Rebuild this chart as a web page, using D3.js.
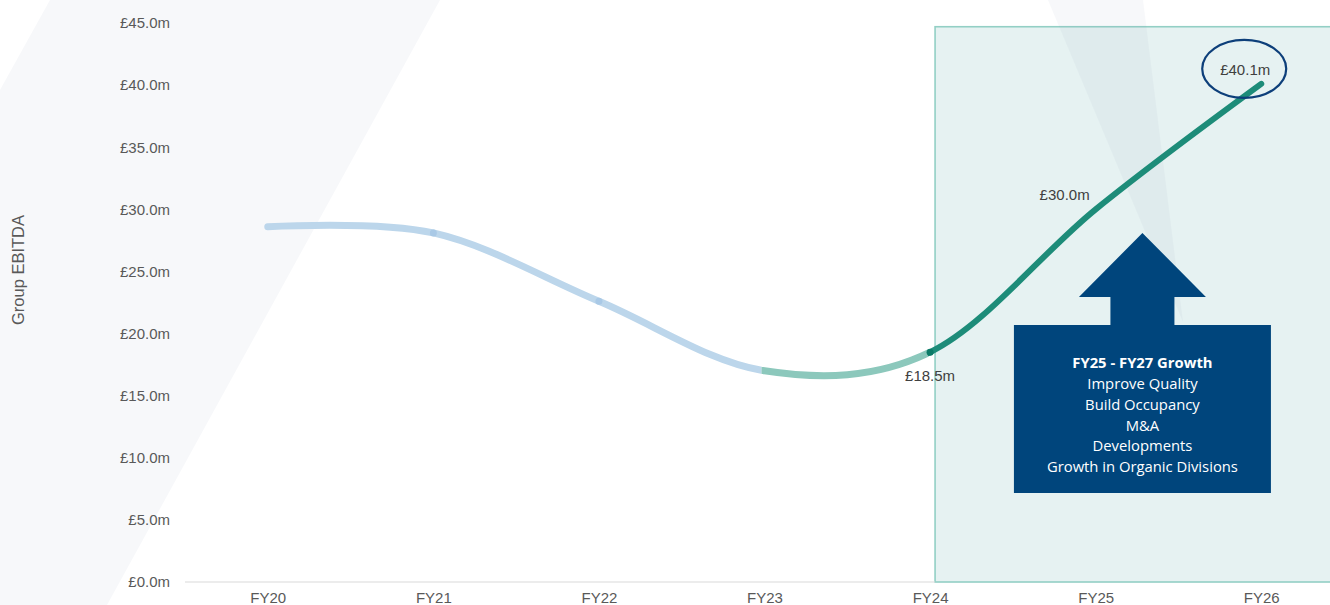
<!DOCTYPE html>
<html>
<head>
<meta charset="utf-8">
<script src="https://cdn.jsdelivr.net/npm/d3@7"></script>
<style>
  html, body { margin: 0; padding: 0; background: #ffffff; overflow: hidden; }
  svg { display: block; }
</style>
</head>
<body>
<svg id="chart" width="1330" height="605"></svg>
<script>
// ---- data ----
const categories = ["FY20", "FY21", "FY22", "FY23", "FY24", "FY25", "FY26"];
const ebitda = [28.6, 28.1, 22.6, 17.0, 18.5, 30.0, 40.1];
const yTicks = [0, 5, 10, 15, 20, 25, 30, 35, 40, 45];
const valueLabels = ["FY24", "FY25", "FY26"];
const markerCats = ["FY21", "FY22"];
const growthTitle = "FY25 - FY27 Growth";
const growthItems = ["Improve Quality", "Build Occupancy", "M&A", "Developments", "Growth in Organic Divisions"];
const yTitle = "Group EBITDA";

// ---- setup ----
const W = 1330, H = 605;
const svg = d3.select("#chart");
const plotLeft = 185, plotRight = 1344, plotTop = 23, plotBottom = 582;

const x = d3.scalePoint().domain(categories).range([plotLeft, plotRight]).padding(0.5);
const y = d3.scaleLinear().domain([0, 45]).range([plotBottom, plotTop]);
const fmt = v => "£" + d3.format(".1f")(v) + "m";
const data = categories.map((c, i) => ({ c, v: ebitda[i] }));

// ---- background decorations ----
svg.append("polygon")
  .attr("points", "50,0 440,0 107,605 0,605 0,90")
  .attr("fill", "#f7f8fa");

// projection box
const boxX = x("FY24") + 5;
svg.append("rect")
  .attr("x", boxX).attr("y", y(44.7))
  .attr("width", W - boxX + 20).attr("height", plotBottom - y(44.7))
  .attr("fill", "#e6f2f2")
  .attr("stroke", "#93cfc5").attr("stroke-width", 1.6);

// faint light wedge top right
svg.append("polygon")
  .attr("points", "1048,0 1143,0 1183,322")
  .attr("fill", "rgba(140,160,185,0.07)");

// baseline
svg.append("line")
  .attr("x1", plotLeft).attr("x2", boxX)
  .attr("y1", y(0)).attr("y2", y(0))
  .attr("stroke", "#d9d9d9").attr("stroke-width", 1.2);

// ---- axes ----
const yAxis = svg.append("g")
  .attr("transform", `translate(${plotLeft - 15},0)`)
  .call(d3.axisLeft(y).tickValues(yTicks).tickFormat(fmt).tickSize(0).tickPadding(0));
yAxis.select(".domain").remove();
yAxis.selectAll("text")
  .attr("font-family", "Liberation Sans, Arial, sans-serif")
  .attr("font-size", 15).attr("fill", "#595959");

const xAxis = svg.append("g")
  .attr("transform", `translate(0,${y(0)})`)
  .call(d3.axisBottom(x).tickSize(0).tickPadding(0));
xAxis.select(".domain").remove();
xAxis.selectAll("text")
  .attr("dy", null).attr("y", 21)
  .attr("font-family", "Liberation Sans, Arial, sans-serif")
  .attr("font-size", 15).attr("fill", "#595959");

svg.append("text")
  .attr("transform", `translate(24,270) rotate(-90)`)
  .attr("text-anchor", "middle")
  .attr("font-family", "Liberation Sans, Arial, sans-serif")
  .attr("font-size", 16.5).attr("fill", "#595959")
  .text(yTitle);

// ---- line in three coloured segments ----
const line = d3.line()
  .x(d => x(d.c)).y(d => y(d.v))
  .curve(d3.curveCardinal.tension(0));
const pathD = line(data);

const defs = svg.append("defs");
const segs = [
  { id: "seg1", x0: 0, x1: x("FY23") - 3, color: "#bcd6eb", w: 7 },
  { id: "seg2", x0: x("FY23") - 3, x1: x("FY24") - 2, color: "#8cc8bc", w: 7 },
  { id: "seg3", x0: x("FY24") - 2, x1: W + 50, color: "#1d8c79", w: 6 }
];
segs.forEach(s => {
  defs.append("clipPath").attr("id", s.id)
    .append("rect").attr("x", s.x0).attr("y", 0).attr("width", s.x1 - s.x0).attr("height", H);
  svg.append("path")
    .attr("d", pathD)
    .attr("clip-path", `url(#${s.id})`)
    .attr("fill", "none")
    .attr("stroke", s.color)
    .attr("stroke-width", s.w)
    .attr("stroke-linecap", "round")
    .attr("stroke-linejoin", "round");
});

// markers
svg.selectAll(".mk").data(data.filter(d => markerCats.includes(d.c)))
  .enter().append("circle")
  .attr("cx", d => x(d.c)).attr("cy", d => y(d.v)).attr("r", 3.5)
  .attr("fill", "#a9c9e6");
svg.append("circle")
  .attr("cx", x("FY24")).attr("cy", y(ebitda[4])).attr("r", 3.5)
  .attr("fill", "#0b7a67");

// value labels
const labelOffsets = { FY24: [0, 23], FY25: [-31, -15], FY26: [-16, -14] };
valueLabels.forEach(c => {
  const d = data.find(e => e.c === c);
  const [dx, dy] = labelOffsets[c];
  svg.append("text")
    .attr("x", x(c) + dx).attr("y", y(d.v) + dy)
    .attr("text-anchor", "middle").attr("dominant-baseline", "central")
    .attr("font-family", "Liberation Sans, Arial, sans-serif")
    .attr("font-size", 15).attr("fill", "#404040")
    .text(fmt(d.v));
});

// ellipse round final value
svg.append("ellipse")
  .attr("cx", x("FY26") - 17).attr("cy", y(ebitda[6]) - 15)
  .attr("rx", 42).attr("ry", 29)
  .attr("fill", "none").attr("stroke", "#0d3f7a").attr("stroke-width", 2.2);

// ---- growth arrow callout ----
const cx = (x("FY25") + x("FY26")) / 2 - 36;
const navy = "#00457c";
const arrowPts = [
  [cx, 233], [cx + 63.5, 297], [cx + 32, 297], [cx + 32, 325],
  [cx + 128.5, 325], [cx + 128.5, 493], [cx - 128.5, 493], [cx - 128.5, 325],
  [cx - 32, 325], [cx - 32, 297], [cx - 63.5, 297]
];
svg.append("polygon")
  .attr("points", arrowPts.map(p => p.join(",")).join(" "))
  .attr("fill", navy);

const tg = svg.append("g")
  .attr("font-family", "Open Sans, Lato, sans-serif")
  .attr("font-size", 14.8).attr("fill", "#ffffff")
  .attr("text-anchor", "middle");
tg.append("text").attr("x", cx).attr("y", 362).attr("dominant-baseline", "central")
  .attr("font-weight", "bold").text(growthTitle);
growthItems.forEach((t, i) => {
  tg.append("text").attr("x", cx).attr("y", 383 + i * 20.8)
    .attr("dominant-baseline", "central").text(t);
});
</script>
</body>
</html>
